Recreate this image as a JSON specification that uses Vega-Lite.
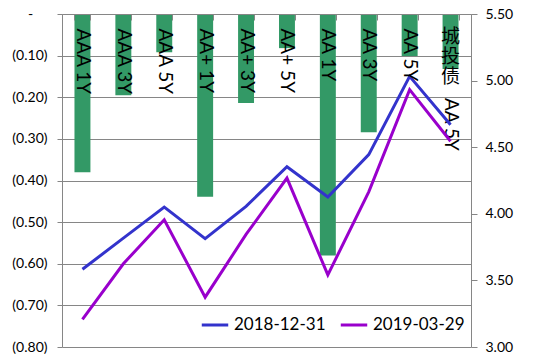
{
  "$schema": "https://vega.github.io/schema/vega-lite/v6.json",
  "width": 409,
  "height": 333,
  "autosize": {"type": "none"},
  "padding": {"left": 62, "top": 14, "right": 89, "bottom": 16},
  "background": "white",
  "config": {"view": {"stroke": null}, "font": "Lato"},
  "datasets": {
    "bars": [
      {"category": "AAA 1Y", "spread": -0.38},
      {"category": "AAA 3Y", "spread": -0.195},
      {"category": "AAA 5Y", "spread": -0.092},
      {"category": "AA+ 1Y", "spread": -0.439},
      {"category": "AA+ 3Y", "spread": -0.214},
      {"category": "AA+ 5Y", "spread": -0.082},
      {"category": "AA 1Y", "spread": -0.58},
      {"category": "AA 3Y", "spread": -0.284},
      {"category": "AA 5Y", "spread": -0.101},
      {"category": "城投债 AA 5Y", "spread": -0.132}
    ],
    "lines": [
      {"category": "AAA 1Y", "series": "2018-12-31", "value": 3.584},
      {"category": "AAA 3Y", "series": "2018-12-31", "value": 3.817},
      {"category": "AAA 5Y", "series": "2018-12-31", "value": 4.05},
      {"category": "AA+ 1Y", "series": "2018-12-31", "value": 3.814},
      {"category": "AA+ 3Y", "series": "2018-12-31", "value": 4.056},
      {"category": "AA+ 5Y", "series": "2018-12-31", "value": 4.353},
      {"category": "AA 1Y", "series": "2018-12-31", "value": 4.126},
      {"category": "AA 3Y", "series": "2018-12-31", "value": 4.444},
      {"category": "AA 5Y", "series": "2018-12-31", "value": 5.032},
      {"category": "城投债 AA 5Y", "series": "2018-12-31", "value": 4.669},
      {"category": "AAA 1Y", "series": "2019-03-29", "value": 3.208},
      {"category": "AAA 3Y", "series": "2019-03-29", "value": 3.625},
      {"category": "AAA 5Y", "series": "2019-03-29", "value": 3.955},
      {"category": "AA+ 1Y", "series": "2019-03-29", "value": 3.374},
      {"category": "AA+ 3Y", "series": "2019-03-29", "value": 3.845},
      {"category": "AA+ 5Y", "series": "2019-03-29", "value": 4.268},
      {"category": "AA 1Y", "series": "2019-03-29", "value": 3.541},
      {"category": "AA 3Y", "series": "2019-03-29", "value": 4.165},
      {"category": "AA 5Y", "series": "2019-03-29", "value": 4.932},
      {"category": "城投债 AA 5Y", "series": "2019-03-29", "value": 4.545}
    ]
  },
  "layer": [
    {
      "layer": [
        {
          "data": {"name": "bars"},
          "mark": {"type": "bar", "color": "#339966"},
          "encoding": {
            "x": {
              "field": "category", "type": "nominal", "sort": null,
              "scale": {"paddingInner": 0.61, "paddingOuter": 0.305},
              "axis": {
                "orient": "bottom", "offset": -333, "tickBand": "extent",
                "labelAngle": 90, "labelAlign": "left", "labelBaseline": "middle",
                "labelPadding": 8, "labelFontSize": 19, "labelFont": "Lato", "labelColor": "#000000",
                "title": null, "domainColor": "#868686", "tickColor": "#868686", "tickSize": 6,
                "labelExpr": "datum.value == '城投债 AA 5Y' ? '' : datum.value",
                "zindex": 1, "labelOverlap": false, "labelBound": false, "labelFlush": false, "grid": false
              }
            },
            "y": {
              "field": "spread", "type": "quantitative",
              "scale": {"domain": [-0.8, 0], "nice": false},
              "axis": {
                "orient": "left",
                "values": [0, -0.1, -0.2, -0.3, -0.4, -0.5, -0.6, -0.7, -0.8],
                "labelExpr": "datum.value == 0 ? '-\u00a0\u00a0\u00a0\u00a0\u2060' : '(' + format(-datum.value, '.2f') + ')'",
                "title": null, "grid": true, "gridColor": "#868686", "tickColor": "#868686",
                "domainColor": "#868686", "tickSize": 5, "labelPadding": 10,
                "labelFontSize": 14, "labelFont": "Lato", "labelColor": "#000000", "zindex": 0
              }
            }
          }
        },
        {
          "data": {"name": "bars"},
          "transform": [{"filter": "datum.category == '城投债 AA 5Y'"}],
          "mark": {"type": "text", "text": "城\n投\n债", "lineBreak": "\n", "font": "Noto Sans CJK SC", "fontSize": 19, "lineHeight": 20, "baseline": "top", "align": "center", "dy": 14, "color": "#000000"},
          "encoding": {
            "x": {"field": "category", "type": "nominal", "sort": null},
            "y": {"datum": 0, "type": "quantitative"}
          }
        },
        {
          "data": {"name": "bars"},
          "transform": [{"filter": "datum.category == '城投债 AA 5Y'"}],
          "mark": {"type": "text", "text": "AA 5Y", "font": "Lato", "fontSize": 19, "angle": 90, "baseline": "middle", "align": "left", "dx": 84, "color": "#000000"},
          "encoding": {
            "x": {"field": "category", "type": "nominal", "sort": null},
            "y": {"datum": 0, "type": "quantitative"}
          }
        }
      ]
    },
    {
      "data": {"name": "lines"},
      "mark": {"type": "line", "strokeWidth": 3},
      "encoding": {
        "x": {"field": "category", "type": "nominal", "sort": null},
        "y": {
          "field": "value", "type": "quantitative",
          "scale": {"domain": [3, 5.5], "nice": false, "zero": false},
          "axis": {
            "orient": "right", "values": [3, 3.5, 4, 4.5, 5, 5.5], "format": ".2f",
            "title": null, "grid": false, "tickSize": 6, "labelPadding": 8,
            "tickColor": "#868686", "domainColor": "#868686",
            "labelFontSize": 14, "labelFont": "Lato", "labelColor": "#000000"
          }
        },
        "color": {
          "field": "series", "type": "nominal",
          "scale": {"domain": ["2018-12-31", "2019-03-29"], "range": ["#3333CC", "#9900CC"]},
          "legend": {
            "orient": "none", "legendX": 138, "legendY": 296, "direction": "horizontal",
            "title": null, "symbolType": "stroke", "symbolStrokeWidth": 3, "symbolSize": 700,
            "labelFontSize": 17, "labelFont": "Lato", "labelColor": "#000000",
            "columnPadding": 8, "labelOffset": 4, "padding": 0
          }
        }
      }
    }
  ],
  "resolve": {"scale": {"y": "independent"}}
}
